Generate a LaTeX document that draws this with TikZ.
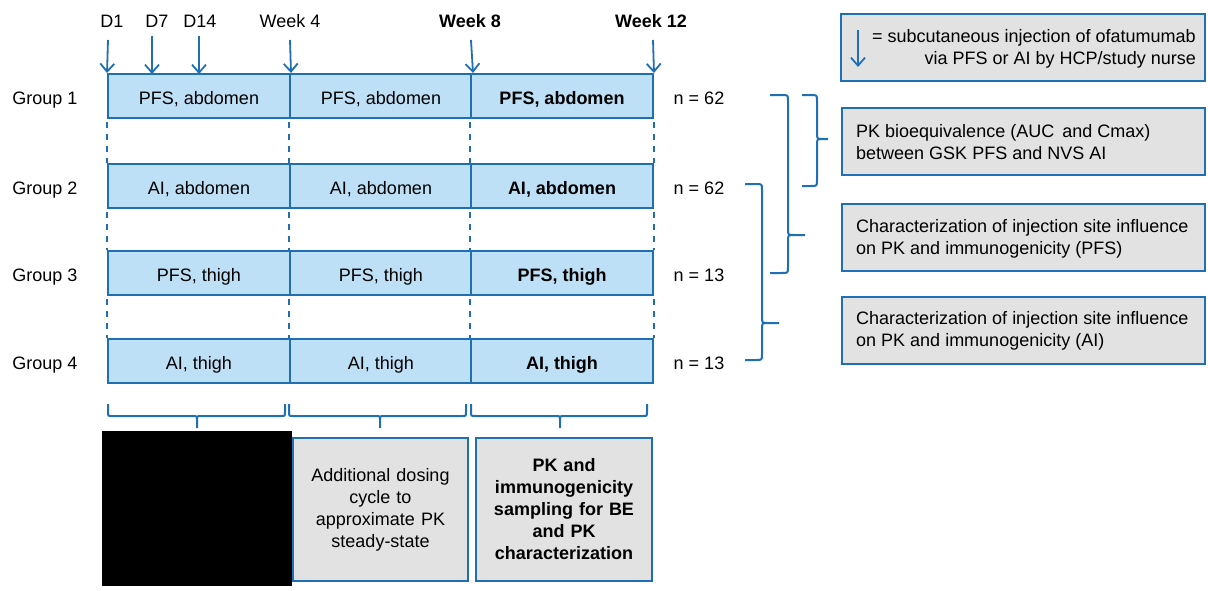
\documentclass[tikz,border=0pt]{standalone}
\usepackage{fontspec}
\setmainfont{Liberation Sans}
\usetikzlibrary{arrows.meta}
\definecolor{lineblue}{RGB}{31,111,181}
\definecolor{cellblue}{RGB}{189,224,247}
\definecolor{boxgray}{RGB}{226,226,226}
\tikzset{
  base/.style={font=\fontsize{18}{22}\selectfont, inner sep=0pt},
  boldbase/.style={font=\fontsize{18}{22}\selectfont\bfseries, inner sep=0pt},
  cell/.style={base, draw=lineblue, fill=cellblue, line width=2pt, minimum height=44pt, minimum width=182pt, text height=16pt, text depth=0pt},
  bcell/.style={cell, boldbase},
  rowlbl/.style={base, text height=16pt, text depth=0pt},
  infobox/.style={base, draw=lineblue, fill=boxgray, line width=2pt},
  dashline/.style={draw=lineblue, line width=2pt, dash pattern=on 6pt off 6pt},
  inj/.style={draw=lineblue, line width=1.8pt, -{Straight Barb[length=8pt,width=14pt]}},
  bracepath/.style={draw=lineblue, line width=2pt},
  boxtext/.style={base, anchor=west, align=left},
}
% vertical brace opening to the left, tip to the right
\newcommand\myvbrace[6]{% x0, xv, xt, yt, ym, yb
  \draw[bracepath] (#1,#4) -- ({#2-6},#4) .. controls (#2,#4) .. (#2,{#4+6})
    -- (#2,{#5-6}) .. controls (#2,#5) .. ({#2+6},#5) -- (#3,#5)
    -- ({#2+6},#5) .. controls (#2,#5) .. (#2,{#5+6})
    -- (#2,{#6-6}) .. controls (#2,#6) .. ({#2-6},#6) -- (#1,#6);}
% horizontal brace opening upwards, tip downwards
\newcommand\myhbrace[3]{% x0, xm, x1
  \draw[bracepath] (#1,404) -- (#1,412) .. controls (#1,416) .. ({#1+4},416)
    -- ({#2-4},416) .. controls (#2,416) .. (#2,420) -- (#2,428)
    -- (#2,420) .. controls (#2,416) .. ({#2+4},416)
    -- ({#3-4},416) .. controls (#3,416) .. (#3,412) -- (#3,404);}
\begin{document}
\begin{tikzpicture}[x=1pt,y=-1pt]
\useasboundingbox (0,0) rectangle (1208,590);

% time labels
\node[base] (tD1) at (112,21) {D1};
\node[base] (tD7) at (157,21) {D7};
\node[base] (tD14) at (200,21) {D14};
\node[base] (tW4) at (290,21) {Week 4};
\node[boldbase] (tW8) at (470,21) {Week 8};
\node[boldbase] (tW12) at (651,21) {Week 12};

% cells
\node[cell] (c11) at (199,96) {PFS, abdomen};
\node[cell] (c12) at (381,96) {PFS, abdomen};
\node[bcell] (c13) at (562,96) {PFS, abdomen};
\node[cell] (c21) at (199,186) {AI, abdomen};
\node[cell] (c22) at (381,186) {AI, abdomen};
\node[bcell] (c23) at (562,186) {AI, abdomen};
\node[cell] (c31) at (199,273) {PFS, thigh};
\node[cell] (c32) at (381,273) {PFS, thigh};
\node[bcell] (c33) at (562,273) {PFS, thigh};
\node[cell] (c41) at (199,361) {AI, thigh};
\node[cell] (c42) at (381,361) {AI, thigh};
\node[bcell] (c43) at (562,361) {AI, thigh};

% group labels and n
\node[rowlbl] (g1) at (45,96) {Group 1};
\node[rowlbl] (g2) at (45,186) {Group 2};
\node[rowlbl] (g3) at (45,273) {Group 3};
\node[rowlbl] (g4) at (45,361) {Group 4};
\node[rowlbl] (n1) at (699,96) {n = 62};
\node[rowlbl] (n2) at (699,186) {n = 62};
\node[rowlbl] (n3) at (699,273) {n = 13};
\node[rowlbl] (n4) at (699,361) {n = 13};

% injection arrows
\coordinate (aD1) at (108,40);
\coordinate (aD7) at (152,36);
\coordinate (aD14) at (199,36);
\coordinate (aW4) at (290,40);
\coordinate (aW8) at (471,40);
\coordinate (aW12) at (653,40);
\draw[inj] (aD1) -- (c11.north west);
\draw[inj] (aD7) -- (152,74);
\draw[inj] (aD14) -- (199,74);
\draw[inj] (aW4) -- (c11.north east);
\draw[inj] (aW8) -- (c12.north east);
\draw[inj] (aW12) -- (c13.north east);

% dashed connectors between rows
\foreach \r/\s in {1/2,2/3,3/4}{
  \draw[dashline] ([yshift=-3pt]c\r1.south west) -- (c\s1.north west);
  \draw[dashline] ([yshift=-3pt]c\r2.south west) -- (c\s2.north west);
  \draw[dashline] ([yshift=-3pt]c\r3.south west) -- (c\s3.north west);
  \draw[dashline] ([yshift=-3pt]c\r3.south east) -- (c\s3.north east);
}

% legend
\node[infobox, minimum width=364pt, minimum height=67pt] (legend) at (1023,47.5) {};
\coordinate (la1) at (858,30);
\coordinate (la2) at (858,67);
\draw[inj] (la1) -- (la2);
\node[base, anchor=east, align=right] (legtxt) at (1196,49) {= subcutaneous injection of ofatumumab\\via PFS or AI by HCP/study nurse};

% right boxes
\node[infobox, minimum width=363pt, minimum height=67pt] (r1) at (1023.5,141.5) {};
\node[infobox, minimum width=363pt, minimum height=67pt] (r2) at (1023.5,237.5) {};
\node[infobox, minimum width=363pt, minimum height=67pt] (r3) at (1023.5,330) {};
\node[boxtext] (r1t) at ([xshift=15pt,yshift=-1pt]r1.west) {PK bioequivalence (AUC\, and Cmax)\\between GSK PFS and NVS AI};
\node[boxtext] (r2t) at ([xshift=15pt,yshift=-1pt]r2.west) {Characterization of injection site influence\\on PK and immunogenicity (PFS)};
\node[boxtext] (r3t) at ([xshift=15pt,yshift=-1pt]r3.west) {Characterization of injection site influence\\on PK and immunogenicity (AI)};

% right braces
\myvbrace{770}{788}{805}{95}{235}{273}
\myvbrace{802}{817}{828}{95}{139}{186}
\myvbrace{745}{762}{779}{184}{323}{360}

% bottom braces
\myhbrace{108}{197}{285}
\myhbrace{289}{380}{466}
\myhbrace{471}{560}{647}

% bottom boxes
\node[fill=black, minimum width=190pt, minimum height=155pt, inner sep=0pt] (redact) at (197,508.5) {};
\node[infobox, minimum width=175pt, minimum height=143pt, text width=165pt, align=center] (b2) at (380.5,509.5) {Additional dosing\\cycle to\\approximate PK\\steady-state};
\node[infobox, boldbase, minimum width=176pt, minimum height=143pt, text width=166pt, align=center] (b3) at (564,509.5) {PK and\\immunogenicity\\sampling for BE\\and PK\\characterization};
\end{tikzpicture}
\end{document}
